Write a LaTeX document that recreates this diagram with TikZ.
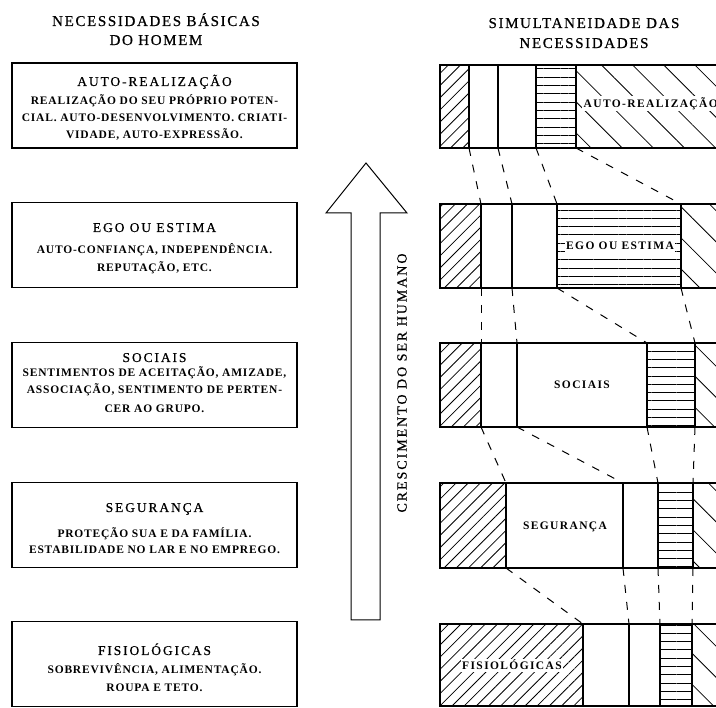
\documentclass[tikz,border=0pt]{standalone}
\usepackage{fontspec}
\setmainfont{Liberation Serif}
\newfontfamily\titlefont[LetterSpace=11,FakeBold=0.6]{Liberation Serif}
\newfontfamily\headfont[LetterSpace=14,FakeBold=0.6]{Liberation Serif}
\newfontfamily\bodyfont[LetterSpace=7]{Liberation Serif}
\newfontfamily\barfont[LetterSpace=12]{Liberation Serif}
\usetikzlibrary{patterns.meta}

\begin{document}
\begin{tikzpicture}[x=1pt,y=-1pt,
  title/.style={font=\titlefont\fontsize{15}{15}\selectfont, anchor=base, inner sep=0pt},
  head/.style={font=\headfont\fontsize{13.5}{13.5}\selectfont, anchor=base, inner sep=0pt},
  body/.style={font=\bodyfont\bfseries\fontsize{11.5}{11.5}\selectfont, anchor=base, inner sep=0pt},
  barlabel/.style={font=\barfont\bfseries\fontsize{11.5}{11.5}\selectfont, anchor=base, inner sep=1.5pt},
  needbox/.style={draw, line width=1.3pt, minimum width=285pt, minimum height=85pt, inner sep=0pt},
  barline/.style={line width=1.3pt},
  hatchne/.style={pattern={Lines[angle=45,distance=8.6pt,line width=0.8pt]}},
  hatchh/.style={pattern={Lines[angle=0,distance=8.3pt,line width=0.8pt]}},
  hatchnw/.style={pattern={Lines[angle=-45,distance=22pt,line width=0.8pt]}},
  connector/.style={line width=1pt, dash pattern=on 8pt off 9pt},
  growth/.style={draw, line width=1pt, fill=white}
]
\useasboundingbox (0,0) rectangle (716,708);

% column titles
\node[title] (tl1) at (156,26) {NECESSIDADES BÁSICAS};
\node[title] (tl2) at (156,45) {DO HOMEM};
\node[title] (tr1) at (584,28) {SIMULTANEIDADE DAS};
\node[title] (tr2) at (584,48) {NECESSIDADES};

% hierarchy of needs (left column)
\node[needbox] (n1) at (154.5,105.5) {};
\node[head] (h1) at (154.5,86) {AUTO-REALIZAÇÃO};
\node[body] (t11) at (154.5,105) {REALIZAÇÃO DO SEU PRÓPRIO POTEN-};
\node[body] (t12) at (154.5,122) {CIAL. AUTO-DESENVOLVIMENTO. CRIATI-};
\node[body] (t13) at (154.5,139) {VIDADE, AUTO-EXPRESSÃO.};

\node[needbox] (n2) at (154.5,245) {};
\node[head] (h2) at (154.5,232) {EGO OU ESTIMA};
\node[body] (t21) at (154.5,254) {AUTO-CONFIANÇA, INDEPENDÊNCIA.};
\node[body] (t22) at (154.5,272) {REPUTAÇÃO, ETC.};

\node[needbox] (n3) at (154.5,385) {};
\node[head] (h3) at (154.5,362) {SOCIAIS};
\node[body] (t31) at (154.5,377) {SENTIMENTOS DE ACEITAÇÃO, AMIZADE,};
\node[body] (t32) at (154.5,394) {ASSOCIAÇÃO, SENTIMENTO DE PERTEN-};
\node[body] (t33) at (154.5,413) {CER AO GRUPO.};

\node[needbox] (n4) at (154.5,525) {};
\node[head] (h4) at (154.5,512) {SEGURANÇA};
\node[body] (t41) at (154.5,538) {PROTEÇÃO SUA E DA FAMÍLIA.};
\node[body] (t42) at (154.5,554) {ESTABILIDADE NO LAR E NO EMPREGO.};

\node[needbox] (n5) at (154.5,664) {};
\node[head] (h5) at (154.5,655) {FISIOLÓGICAS};
\node[body] (t51) at (154.5,674) {SOBREVIVÊNCIA, ALIMENTAÇÃO.};
\node[body] (t52) at (154.5,692) {ROUPA E TETO.};

% growth arrow
\draw[growth] (351,620) -- (351,213) -- (326,213) -- (366,163) -- (407,213)
  -- (380,213) -- (380,620) -- cycle;
\node[font=\headfont\fontsize{14}{14}\selectfont, rotate=90, inner sep=0pt]
  (grow) at (402,383) {CRESCIMENTO DO SER HUMANO};

% bars: top / bottom / four division lines
\foreach \i/\top/\bot/\da/\db/\dc/\dd in
  {1/65/148/469/498/536/576,
   2/204/288/481/512/557/681,
   3/343/427/481/517/647/695,
   4/483/568/506/623/658/693,
   5/624/706/583/629/660/692} {
  \fill[hatchne] (440,\top) rectangle (\da,\bot);
  \fill[hatchh] (\dc,\top) rectangle (\dd,\bot);
  \fill[hatchnw] (\dd,\top) rectangle (730,\bot);
  \draw[barline] (440,\top) rectangle (730,\bot);
  \foreach \j/\x in {1/\da,2/\db,3/\dc,4/\dd} {
    \draw[barline] (\x,\top) coordinate (b\i-\j-t) -- (\x,\bot) coordinate (b\i-\j-b);
  }
}

% labels inside the bars
\node[barlabel, anchor=base west, fill=white] (l1) at (582,107.5) {AUTO-REALIZAÇÃO};
\node[barlabel, fill=white] (l2) at (620,250) {EGO OU ESTIMA};
\node[barlabel] (l3) at (582,389) {SOCIAIS};
\node[barlabel] (l4) at (565,530) {SEGURANÇA};
\node[barlabel, fill=white] (l5) at (512,670) {FISIOLÓGICAS};

% dashed links between matching divisions of successive bars
\foreach \i/\n in {1/2,2/3,3/4,4/5} {
  \foreach \j in {1,...,4} {
    \draw[connector] (b\i-\j-b) -- (b\n-\j-t);
  }
}
\end{tikzpicture}
\end{document}
